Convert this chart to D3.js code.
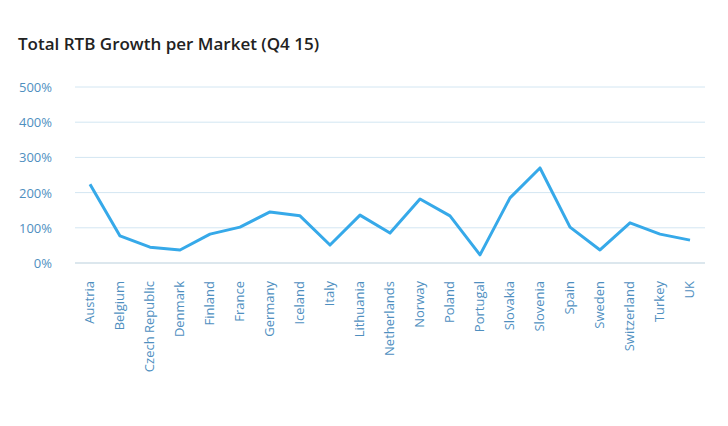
<!DOCTYPE html>
<html><head><meta charset="utf-8">
<script src="https://cdn.jsdelivr.net/npm/d3@7"></script>
<style>body{margin:0;background:#fff;font-family:"Open Sans",sans-serif;}</style>
</head><body>
<svg id="chart" width="728" height="426"></svg>
<script>
var markets = ["Austria","Belgium","Czech Republic","Denmark","Finland","France","Germany","Iceland","Italy","Lithuania","Netherlands","Norway","Poland","Portugal","Slovakia","Slovenia","Spain","Sweden","Switzerland","Turkey","UK"];
var growth = [224,77,45,37,82,102,145,134,51,136,85,182,134,23,185,270,102,37,114,82,65];
var yTicks = [0,100,200,300,400,500];

var svg = d3.select("#chart");
var plotLeft = 75, plotRight = 705, plotTop = 87, plotBottom = 263;

svg.append("text").attr("x", 18).attr("y", 50)
    .attr("font-size", 17).attr("font-weight", 600).attr("fill", "#222")
    .text("Total RTB Growth per Market (Q4 15)");

var x = d3.scalePoint().domain(markets).range([90, 690]);
var y = d3.scaleLinear().domain([0, 500]).range([plotBottom, plotTop]);

svg.selectAll("line.grid").data(yTicks).enter().append("line")
    .attr("x1", plotLeft).attr("x2", plotRight)
    .attr("y1", function (d) { return y(d); }).attr("y2", function (d) { return y(d); })
    .attr("stroke", function (d) { return d === 0 ? "#b9cfdc" : "#d3e6f2"; }).attr("stroke-width", 1);

svg.selectAll("text.ytick").data(yTicks).enter().append("text")
    .attr("x", 52).attr("y", function (d) { return y(d) + 5; })
    .attr("text-anchor", "end").attr("font-size", 13).attr("fill", "#4f8fbf")
    .text(function (d) { return d + "%"; });

svg.selectAll("text.xtick").data(markets).enter().append("text")
    .attr("transform", function (d) { return "translate(" + (x(d) + 4) + ",281) rotate(-90)"; })
    .attr("text-anchor", "end").attr("font-size", 13).attr("fill", "#4f8fbf")
    .text(function (d) { return d; });

var line = d3.line()
    .x(function (d, i) { return x(markets[i]); })
    .y(function (d) { return y(d); });

svg.append("path").datum(growth).attr("d", line)
    .attr("fill", "none").attr("stroke", "#36a9e9").attr("stroke-width", 3)
    .attr("stroke-linejoin", "round");
</script>
</body></html>
